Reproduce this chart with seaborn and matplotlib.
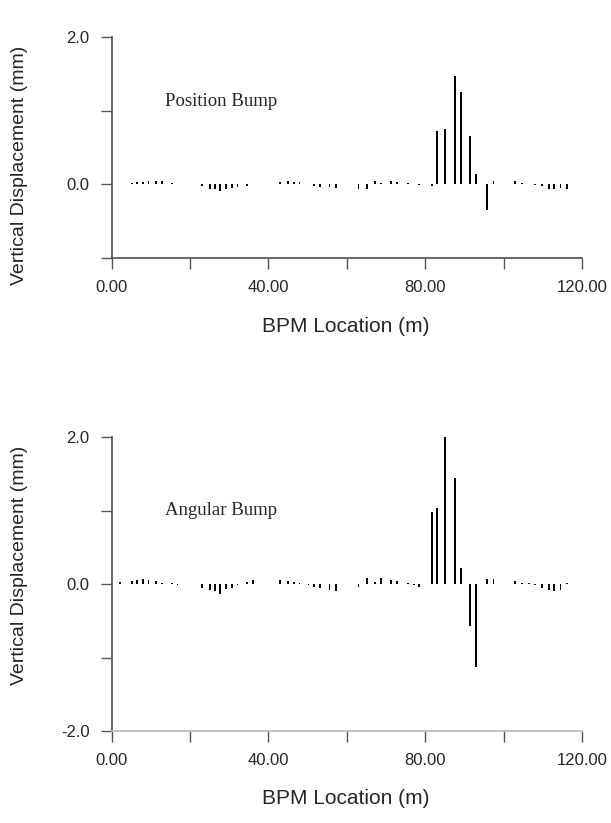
import numpy as np
import pandas as pd
import seaborn as sns
import matplotlib.pyplot as plt

sns.set_theme(style="ticks")
plt.rcParams['font.family'] = ['Liberation Sans', 'DejaVu Sans']

# BPM posities (m), zes cellen van 9 monitoren
bpm_pos = [2.1, 5.1, 6.5, 7.9, 9.4, 11.3, 12.8, 15.3, 16.8,
           23.1, 25.1, 26.4, 27.7, 29.2, 30.6, 32.1, 34.5, 36.0,
           43.0, 44.9, 46.5, 47.9, 50.2, 51.6, 53.2, 55.6, 57.2,
           63.0, 65.1, 67.2, 68.7, 71.2, 72.7, 75.7, 77.2, 78.5,
           81.7, 83.0, 85.1, 87.5, 89.1, 91.4, 93.0, 95.8, 97.4,
           103.0, 104.7, 106.4, 108.1, 109.8, 111.5, 112.8, 114.5, 116.2]

# verticale verplaatsing (mm) bij de position bump
pos_bump = [0.01, 0.02, 0.03, 0.03, 0.05, 0.05, 0.04, 0.02, 0.01,
            -0.02, -0.06, -0.07, -0.09, -0.06, -0.05, -0.03, -0.02, 0.01,
            0.03, 0.04, 0.03, 0.03, 0.01, -0.02, -0.03, -0.04, -0.05,
            -0.06, -0.06, 0.04, 0.02, 0.05, 0.03, 0.02, 0.01, -0.01,
            -0.02, 0.72, 0.75, 1.47, 1.26, 0.66, 0.14, -0.35, 0.04,
            0.04, 0.02, 0.01, -0.01, -0.02, -0.07, -0.07, -0.05, -0.06]

# verticale verplaatsing (mm) bij de angular bump
ang_bump = [0.03, 0.04, 0.06, 0.07, 0.05, 0.04, 0.02, 0.01, -0.01,
            -0.06, -0.08, -0.09, -0.13, -0.07, -0.05, -0.02, 0.03, 0.05,
            0.06, 0.04, 0.03, 0.01, -0.02, -0.04, -0.05, -0.08, -0.10,
            -0.04, 0.08, 0.03, 0.08, 0.05, 0.04, 0.01, -0.02, -0.04,
            0.98, 1.03, 2.0, 1.44, 0.22, -0.57, -1.13, 0.07, 0.07,
            0.04, 0.02, 0.01, -0.02, -0.05, -0.08, -0.10, -0.08, 0.01]

x_ticks = [0, 20, 40, 60, 80, 100, 120]
x_labels = ['0.00', '', '40.00', '', '80.00', '', '120.00']

df = pd.DataFrame({'pos': bpm_pos, 'position': pos_bump, 'angular': ang_bump})

fig = plt.figure(figsize=(6.11, 8.23), dpi=100)
W, H = 611, 823


def maak_paneel(rect, kolom, ylim, yticks, ylabels, tekst, tekst_y, kleur_as):
    ax = fig.add_axes(rect)
    sns.barplot(data=df, x='pos', y=kolom, native_scale=True, orient='x',
                width=0.35, color='black', saturation=1, errorbar=None,
                linewidth=0, ax=ax)
    ax.set_xlim(0, 120)
    ax.set_ylim(*ylim)
    ax.set_xticks(x_ticks)
    ax.set_xticklabels(x_labels, fontsize=12)
    ax.set_yticks(yticks)
    ax.set_yticklabels(ylabels, fontsize=12)
    ax.set_xlabel('')
    ax.set_ylabel('')
    sns.despine(ax=ax)
    ax.spines['left'].set_color('#555555')
    ax.spines['bottom'].set_color(kleur_as)
    ax.tick_params(axis='both', direction='out', length=8, width=1,
                   color='#555555', pad=8)
    ax.text(13.5, tekst_y, tekst, family=['Liberation Serif'], fontsize=13.5,
            va='center', ha='left')
    return ax


# bovenste paneel: position bump
maak_paneel([111.7 / W, 1 - 258 / H, 470.3 / W, 221 / H], 'position',
            (-1, 2), [-1, 0, 1, 2], ['', '0.0', '', '2.0'],
            'Position Bump', 1.12, '#555555')
fig.text(20 / W, 1 - 165 / H, 'Vertical Displacement (mm)', rotation=90,
         ha='center', va='center', fontsize=14)
fig.text(346 / W, 1 - 326 / H, 'BPM Location (m)', ha='center', va='center',
         fontsize=15)

# onderste paneel: angular bump
maak_paneel([111.7 / W, 1 - 731 / H, 470.3 / W, 294 / H], 'angular',
            (-2, 2), [-2, -1, 0, 1, 2], ['-2.0', '', '0.0', '', '2.0'],
            'Angular Bump', 1.0, '#bbbbbb')
fig.text(20 / W, 1 - 565 / H, 'Vertical Displacement (mm)', rotation=90,
         ha='center', va='center', fontsize=14)
fig.text(346 / W, 1 - 798 / H, 'BPM Location (m)', ha='center', va='center',
         fontsize=15)

fig.savefig('out.png', dpi=100)
